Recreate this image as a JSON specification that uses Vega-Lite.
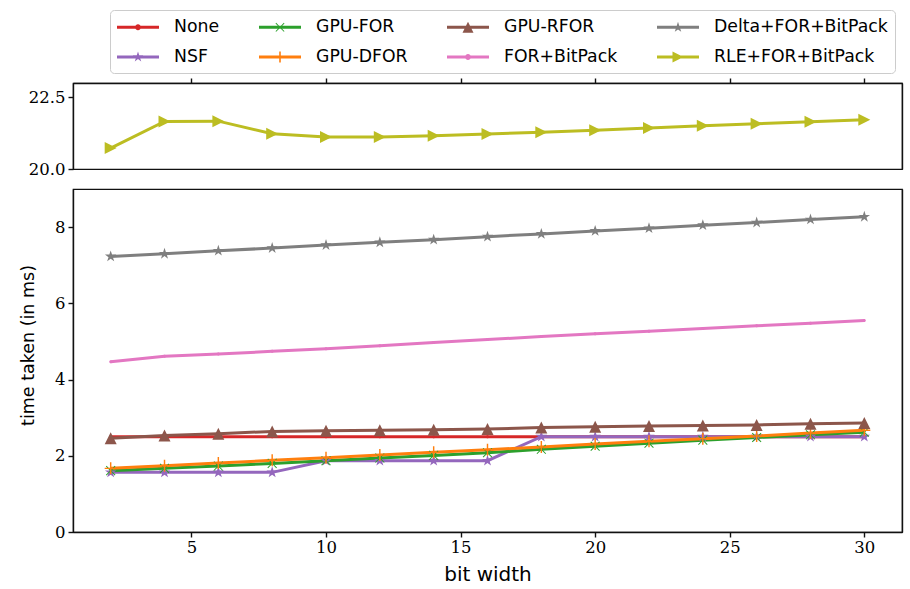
{
  "$schema": "https://vega.github.io/schema/vega-lite/v6.json",
  "background": "white",
  "padding": {"left": 18, "top": 8, "right": 1, "bottom": 3},
  "bounds": "flush",
  "spacing": 20,
  "datasets": {
    "times": [
      {"bits": 2, "None": 2.50, "NSF": 1.565, "GPU-FOR": 1.61, "GPU-DFOR": 1.67, "GPU-RFOR": 2.46, "FOR+BitPack": 4.47, "Delta+FOR+BitPack": 7.23, "RLE+FOR+BitPack": 20.73},
      {"bits": 4, "None": 2.50, "NSF": 1.565, "GPU-FOR": 1.67, "GPU-DFOR": 1.74, "GPU-RFOR": 2.53, "FOR+BitPack": 4.61, "Delta+FOR+BitPack": 7.30, "RLE+FOR+BitPack": 21.66},
      {"bits": 6, "None": 2.50, "NSF": 1.565, "GPU-FOR": 1.73, "GPU-DFOR": 1.81, "GPU-RFOR": 2.58, "FOR+BitPack": 4.67, "Delta+FOR+BitPack": 7.38, "RLE+FOR+BitPack": 21.67},
      {"bits": 8, "None": 2.50, "NSF": 1.565, "GPU-FOR": 1.80, "GPU-DFOR": 1.88, "GPU-RFOR": 2.64, "FOR+BitPack": 4.74, "Delta+FOR+BitPack": 7.45, "RLE+FOR+BitPack": 21.23},
      {"bits": 10, "None": 2.50, "NSF": 1.87, "GPU-FOR": 1.87, "GPU-DFOR": 1.95, "GPU-RFOR": 2.656, "FOR+BitPack": 4.81, "Delta+FOR+BitPack": 7.53, "RLE+FOR+BitPack": 21.12},
      {"bits": 12, "None": 2.50, "NSF": 1.87, "GPU-FOR": 1.94, "GPU-DFOR": 2.02, "GPU-RFOR": 2.67, "FOR+BitPack": 4.89, "Delta+FOR+BitPack": 7.60, "RLE+FOR+BitPack": 21.12},
      {"bits": 14, "None": 2.50, "NSF": 1.87, "GPU-FOR": 2.01, "GPU-DFOR": 2.09, "GPU-RFOR": 2.68, "FOR+BitPack": 4.97, "Delta+FOR+BitPack": 7.67, "RLE+FOR+BitPack": 21.16},
      {"bits": 16, "None": 2.50, "NSF": 1.87, "GPU-FOR": 2.08, "GPU-DFOR": 2.16, "GPU-RFOR": 2.70, "FOR+BitPack": 5.05, "Delta+FOR+BitPack": 7.75, "RLE+FOR+BitPack": 21.22},
      {"bits": 18, "None": 2.50, "NSF": 2.50, "GPU-FOR": 2.17, "GPU-DFOR": 2.23, "GPU-RFOR": 2.74, "FOR+BitPack": 5.13, "Delta+FOR+BitPack": 7.82, "RLE+FOR+BitPack": 21.28},
      {"bits": 20, "None": 2.50, "NSF": 2.50, "GPU-FOR": 2.25, "GPU-DFOR": 2.31, "GPU-RFOR": 2.76, "FOR+BitPack": 5.20, "Delta+FOR+BitPack": 7.90, "RLE+FOR+BitPack": 21.35},
      {"bits": 22, "None": 2.50, "NSF": 2.50, "GPU-FOR": 2.33, "GPU-DFOR": 2.38, "GPU-RFOR": 2.78, "FOR+BitPack": 5.27, "Delta+FOR+BitPack": 7.97, "RLE+FOR+BitPack": 21.43},
      {"bits": 24, "None": 2.50, "NSF": 2.50, "GPU-FOR": 2.41, "GPU-DFOR": 2.45, "GPU-RFOR": 2.795, "FOR+BitPack": 5.34, "Delta+FOR+BitPack": 8.05, "RLE+FOR+BitPack": 21.51},
      {"bits": 26, "None": 2.50, "NSF": 2.50, "GPU-FOR": 2.48, "GPU-DFOR": 2.52, "GPU-RFOR": 2.81, "FOR+BitPack": 5.41, "Delta+FOR+BitPack": 8.12, "RLE+FOR+BitPack": 21.58},
      {"bits": 28, "None": 2.50, "NSF": 2.50, "GPU-FOR": 2.55, "GPU-DFOR": 2.60, "GPU-RFOR": 2.84, "FOR+BitPack": 5.48, "Delta+FOR+BitPack": 8.20, "RLE+FOR+BitPack": 21.65},
      {"bits": 30, "None": 2.50, "NSF": 2.50, "GPU-FOR": 2.62, "GPU-DFOR": 2.67, "GPU-RFOR": 2.86, "FOR+BitPack": 5.55, "Delta+FOR+BitPack": 8.27, "RLE+FOR+BitPack": 21.72}
    ]
  },
  "config": {
    "view": {"stroke": "#111111", "strokeWidth": 1.2},
    "axis": {
      "grid": false,
      "domainColor": "#111111",
      "domainWidth": 1.4,
      "tickColor": "#111111",
      "tickWidth": 1.4,
      "tickSize": 5,
      "labelFont": "DejaVu Serif",
      "labelFontSize": 16.5,
      "labelColor": "black",
      "titleFont": "DejaVu Sans",
      "titleFontWeight": "normal",
      "titleColor": "black"
    }
  },
  "vconcat": [
    {
      "width": 829,
      "height": 86,
      "data": {"name": "times"},
      "transform": [
        {"fold": ["None", "NSF", "GPU-FOR", "GPU-DFOR", "GPU-RFOR", "FOR+BitPack", "Delta+FOR+BitPack", "RLE+FOR+BitPack"], "as": ["series", "ms"]},
        {"filter": {"field": "series", "equal": "RLE+FOR+BitPack"}}
      ],
      "encoding": {
        "x": {"field": "bits", "type": "quantitative", "scale": {"domain": [0.6, 31.4], "nice": false, "zero": false}, "axis": {"orient": "top", "labels": false, "title": null, "values": [5, 10, 15, 20, 25, 30]}},
        "y": {"field": "ms", "type": "quantitative", "scale": {"domain": [20, 23], "nice": false, "zero": false}, "axis": {"values": [20, 22.5], "format": ".1f", "title": null, "labelPadding": 3}}
      },
      "layer": [
        {
          "mark": {"type": "line", "strokeWidth": 3, "clip": true},
          "encoding": {
            "color": {"field": "series", "type": "nominal", "scale": {"domain": ["None", "NSF", "GPU-FOR", "GPU-DFOR", "GPU-RFOR", "FOR+BitPack", "Delta+FOR+BitPack", "RLE+FOR+BitPack"], "range": ["#d62728", "#9467bd", "#2ca02c", "#ff7f0e", "#8c564b", "#e377c2", "#7f7f7f", "#bcbd22"]}, "legend": null}
          }
        },
        {
          "mark": {"type": "point", "filled": true, "opacity": 1, "size": 144, "strokeWidth": 0, "clip": true},
          "encoding": {
            "y": {"field": "ms", "type": "quantitative", "axis": {"orient": "right", "labels": false, "ticks": false, "title": null}},
            "color": {"field": "series", "type": "nominal", "scale": {"domain": ["None", "NSF", "GPU-FOR", "GPU-DFOR", "GPU-RFOR", "FOR+BitPack", "Delta+FOR+BitPack", "RLE+FOR+BitPack"], "range": ["#d62728", "#9467bd", "#2ca02c", "#ff7f0e", "#8c564b", "#e377c2", "#7f7f7f", "#bcbd22"]}, "legend": null},
            "shape": {"field": "series", "type": "nominal", "scale": {"domain": ["None", "NSF", "GPU-FOR", "GPU-DFOR", "GPU-RFOR", "FOR+BitPack", "Delta+FOR+BitPack", "RLE+FOR+BitPack"], "range": [
              "M0.25,0A0.25,0.25 0 1,1 -0.25,0A0.25,0.25 0 1,1 0.25,0Z",
              "M0,-1L0.224,-0.309L0.951,-0.309L0.363,0.118L0.588,0.809L0,0.382L-0.588,0.809L-0.363,0.118L-0.951,-0.309L-0.224,-0.309Z",
              "M-0.8,-0.68L-0.68,-0.8L0,-0.12L0.68,-0.8L0.8,-0.68L0.12,0L0.8,0.68L0.68,0.8L0,0.12L-0.68,0.8L-0.8,0.68L-0.12,0Z",
              "M-0.12,-1H0.12V-0.12H1V0.12H0.12V1H-0.12V0.12H-1V-0.12H-0.12Z",
              "M0,-1L1,1L-1,1Z",
              "M0.25,0A0.25,0.25 0 1,1 -0.25,0A0.25,0.25 0 1,1 0.25,0Z",
              "M0,-1L0.224,-0.309L0.951,-0.309L0.363,0.118L0.588,0.809L0,0.382L-0.588,0.809L-0.363,0.118L-0.951,-0.309L-0.224,-0.309Z",
              "M1,0L-1,1L-1,-1Z"
            ]}, "legend": null}
          }
        },
        {
          "transform": [{"filter": "false"}],
          "mark": {"type": "point", "filled": true, "strokeWidth": 0},
          "encoding": {
            "y": {"field": "ms", "type": "quantitative", "axis": null},
            "color": {"field": "series", "type": "nominal", "scale": {"domain": ["None", "NSF", "GPU-FOR", "GPU-DFOR", "GPU-RFOR", "FOR+BitPack", "Delta+FOR+BitPack", "RLE+FOR+BitPack"], "range": ["#d62728", "#9467bd", "#2ca02c", "#ff7f0e", "#8c564b", "#e377c2", "#7f7f7f", "#bcbd22"]},
              "legend": {"orient": "none", "legendX": 37, "legendY": -73, "columns": 4, "title": null, "symbolSize": 400, "labelOffset": 37, "rowPadding": 11, "columnPadding": 39, "padding": 7, "strokeColor": "#cccccc", "fillColor": "#ffffff", "cornerRadius": 4, "labelFont": "DejaVu Sans", "labelFontSize": 17.3, "labelColor": "#000000", "labelLimit": 400, "symbolStrokeWidth": 0, "symbolOpacity": 1}},
            "shape": {"field": "series", "type": "nominal", "scale": {"domain": ["None", "NSF", "GPU-FOR", "GPU-DFOR", "GPU-RFOR", "FOR+BitPack", "Delta+FOR+BitPack", "RLE+FOR+BitPack"], "range": [
              "M-1,-0.15H3.2V0.15H-1ZM1.4,0A0.3,0.3 0 1,1 0.8,0A0.3,0.3 0 1,1 1.4,0Z",
              "M-1,-0.15H3.2V0.15H-1ZM1.1,-0.55L1.223,-0.17L1.623,-0.17L1.3,0.065L1.423,0.445L1.1,0.21L0.777,0.445L0.9,0.065L0.577,-0.17L0.977,-0.17Z",
              "M-1,-0.15H3.2V0.15H-1ZM0.65,-0.383L0.718,-0.45L1.1,-0.068L1.483,-0.45L1.55,-0.383L1.168,0L1.55,0.383L1.483,0.45L1.1,0.068L0.718,0.45L0.65,0.383L1.032,0Z",
              "M-1,-0.15H3.2V0.15H-1ZM1.02,-0.55H1.18V-0.08H1.65V0.08H1.18V0.55H1.02V0.08H0.55V-0.08H1.02Z",
              "M-1,-0.15H3.2V0.15H-1ZM1.1,-0.55L1.65,0.55L0.55,0.55Z",
              "M-1,-0.15H3.2V0.15H-1ZM1.4,0A0.3,0.3 0 1,1 0.8,0A0.3,0.3 0 1,1 1.4,0Z",
              "M-1,-0.15H3.2V0.15H-1ZM1.1,-0.55L1.223,-0.17L1.623,-0.17L1.3,0.065L1.423,0.445L1.1,0.21L0.777,0.445L0.9,0.065L0.577,-0.17L0.977,-0.17Z",
              "M-1,-0.15H3.2V0.15H-1ZM1.65,0L0.55,0.55L0.55,-0.55Z"
            ]},
              "legend": {"orient": "none", "legendX": 37, "legendY": -73, "columns": 4, "title": null, "symbolSize": 400, "labelOffset": 37, "rowPadding": 11, "columnPadding": 39, "padding": 7, "strokeColor": "#cccccc", "fillColor": "#ffffff", "cornerRadius": 4, "labelFont": "DejaVu Sans", "labelFontSize": 17.3, "labelColor": "#000000", "labelLimit": 400, "symbolStrokeWidth": 0, "symbolOpacity": 1}}
          }
        },
        {
          "data": {"values": [{}]},
          "mark": {"type": "point", "clip": false, "filled": true, "strokeWidth": 0, "opacity": 1, "color": "#111111", "size": 280, "shape": "M-1,0.42L1,-0.58L1,-0.42L-1,0.58Z"},
          "encoding": {
            "x": {"datum": 0.6, "type": "quantitative", "axis": {"orient": "top", "labels": false, "title": null, "values": [5, 10, 15, 20, 25, 30]}},
            "y": {"datum": 20, "type": "quantitative", "axis": null}
          }
        },
        {
          "data": {"values": [{}]},
          "mark": {"type": "point", "clip": false, "filled": true, "strokeWidth": 0, "opacity": 1, "color": "#111111", "size": 280, "shape": "M-1,0.42L1,-0.58L1,-0.42L-1,0.58Z"},
          "encoding": {
            "x": {"datum": 31.4, "type": "quantitative", "axis": {"orient": "top", "labels": false, "title": null, "values": [5, 10, 15, 20, 25, 30]}},
            "y": {"datum": 20, "type": "quantitative", "axis": null}
          }
        }
      ],
      "resolve": {"scale": {"color": "independent", "shape": "independent"}, "axis": {"y": "independent"}}
    },
    {
      "width": 829,
      "height": 343,
      "data": {"name": "times"},
      "transform": [
        {"fold": ["None", "NSF", "GPU-FOR", "GPU-DFOR", "GPU-RFOR", "FOR+BitPack", "Delta+FOR+BitPack", "RLE+FOR+BitPack"], "as": ["series", "ms"]},
        {"filter": {"not": {"field": "series", "equal": "RLE+FOR+BitPack"}}}
      ],
      "encoding": {
        "x": {"field": "bits", "type": "quantitative", "scale": {"domain": [0.6, 31.4], "nice": false, "zero": false}, "axis": {"values": [5, 10, 15, 20, 25, 30], "title": "bit width", "titleFontSize": 20, "labelPadding": 2, "titlePadding": 9}},
        "y": {"field": "ms", "type": "quantitative", "scale": {"domain": [0, 9], "nice": false, "zero": false}, "axis": {"values": [0, 2, 4, 6, 8], "title": "time taken (in ms)", "titleFontSize": 17.5, "titlePadding": 17, "titleY": 156, "labelPadding": 3}}
      },
      "layer": [
        {
          "mark": {"type": "line", "strokeWidth": 3, "clip": true},
          "encoding": {
            "color": {"field": "series", "type": "nominal", "scale": {"domain": ["None", "NSF", "GPU-FOR", "GPU-DFOR", "GPU-RFOR", "FOR+BitPack", "Delta+FOR+BitPack", "RLE+FOR+BitPack"], "range": ["#d62728", "#9467bd", "#2ca02c", "#ff7f0e", "#8c564b", "#e377c2", "#7f7f7f", "#bcbd22"]}, "legend": null}
          }
        },
        {
          "mark": {"type": "point", "filled": true, "opacity": 1, "size": 144, "strokeWidth": 0, "clip": true},
          "encoding": {
            "y": {"field": "ms", "type": "quantitative", "axis": {"orient": "right", "labels": false, "ticks": false, "title": null}},
            "color": {"field": "series", "type": "nominal", "scale": {"domain": ["None", "NSF", "GPU-FOR", "GPU-DFOR", "GPU-RFOR", "FOR+BitPack", "Delta+FOR+BitPack", "RLE+FOR+BitPack"], "range": ["#d62728", "#9467bd", "#2ca02c", "#ff7f0e", "#8c564b", "#e377c2", "#7f7f7f", "#bcbd22"]}, "legend": null},
            "shape": {"field": "series", "type": "nominal", "scale": {"domain": ["None", "NSF", "GPU-FOR", "GPU-DFOR", "GPU-RFOR", "FOR+BitPack", "Delta+FOR+BitPack", "RLE+FOR+BitPack"], "range": [
              "M0.25,0A0.25,0.25 0 1,1 -0.25,0A0.25,0.25 0 1,1 0.25,0Z",
              "M0,-1L0.224,-0.309L0.951,-0.309L0.363,0.118L0.588,0.809L0,0.382L-0.588,0.809L-0.363,0.118L-0.951,-0.309L-0.224,-0.309Z",
              "M-0.8,-0.68L-0.68,-0.8L0,-0.12L0.68,-0.8L0.8,-0.68L0.12,0L0.8,0.68L0.68,0.8L0,0.12L-0.68,0.8L-0.8,0.68L-0.12,0Z",
              "M-0.12,-1H0.12V-0.12H1V0.12H0.12V1H-0.12V0.12H-1V-0.12H-0.12Z",
              "M0,-1L1,1L-1,1Z",
              "M0.25,0A0.25,0.25 0 1,1 -0.25,0A0.25,0.25 0 1,1 0.25,0Z",
              "M0,-1L0.224,-0.309L0.951,-0.309L0.363,0.118L0.588,0.809L0,0.382L-0.588,0.809L-0.363,0.118L-0.951,-0.309L-0.224,-0.309Z",
              "M1,0L-1,1L-1,-1Z"
            ]}, "legend": null}
          }
        },
        {
          "data": {"values": [{}]},
          "mark": {"type": "point", "clip": false, "filled": true, "strokeWidth": 0, "opacity": 1, "color": "#111111", "size": 280, "shape": "M-1,0.42L1,-0.58L1,-0.42L-1,0.58Z"},
          "encoding": {
            "x": {"datum": 0.6, "type": "quantitative", "axis": {"values": [5, 10, 15, 20, 25, 30], "title": "bit width", "titleFontSize": 20, "labelPadding": 2, "titlePadding": 9}},
            "y": {"datum": 9, "type": "quantitative", "axis": null}
          }
        },
        {
          "data": {"values": [{}]},
          "mark": {"type": "point", "clip": false, "filled": true, "strokeWidth": 0, "opacity": 1, "color": "#111111", "size": 280, "shape": "M-1,0.42L1,-0.58L1,-0.42L-1,0.58Z"},
          "encoding": {
            "x": {"datum": 31.4, "type": "quantitative", "axis": {"values": [5, 10, 15, 20, 25, 30], "title": "bit width", "titleFontSize": 20, "labelPadding": 2, "titlePadding": 9}},
            "y": {"datum": 9, "type": "quantitative", "axis": null}
          }
        }
      ],
      "resolve": {"scale": {"color": "independent", "shape": "independent"}, "axis": {"y": "independent"}}
    }
  ]
}
